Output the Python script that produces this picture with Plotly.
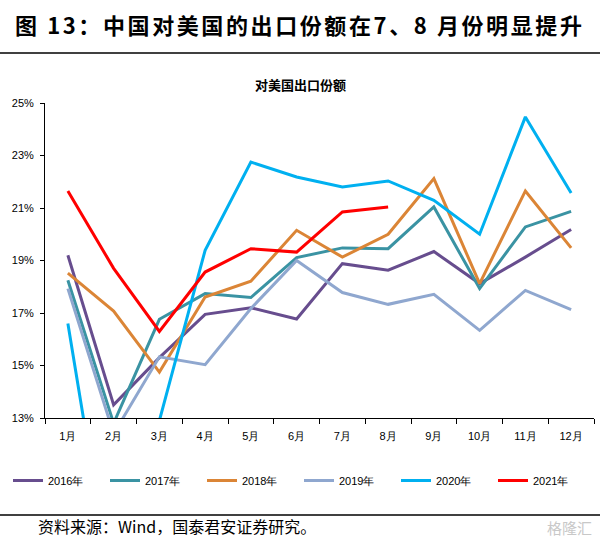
import plotly.graph_objects as go

months = ["1月", "2月", "3月", "4月", "5月", "6月", "7月", "8月", "9月", "10月", "11月", "12月"]
y_ticks = [13, 15, 17, 19, 21, 23, 25]
y_tick_labels = ["13%", "15%", "17%", "19%", "21%", "23%", "25%"]

s2016 = [19.2, 13.5, 15.3, 16.95, 17.2, 16.77, 18.88, 18.63, 19.34, 18.12, 19.13, 20.18]
s2017 = [18.25, 12.8, 16.76, 17.74, 17.59, 19.11, 19.48, 19.45, 21.04, 17.93, 20.28, 20.87]
s2018 = [18.52, 17.07, 14.75, 17.61, 18.21, 20.15, 19.13, 20.0, 22.12, 18.12, 21.65, 19.48]
s2019 = [17.93, 12.4, 15.33, 15.03, 17.17, 19.0, 17.78, 17.33, 17.71, 16.34, 17.86, 17.13]
s2020 = [16.6, 6.0, 12.9, 19.39, 22.75, 22.18, 21.8, 22.03, 21.29, 20.0, 24.47, 21.57]
s2021 = [21.65, 18.7, 16.3, 18.56, 19.45, 19.32, 20.85, 21.04]

series = [
    ("2016年", s2016, "#674D8E"),
    ("2017年", s2017, "#3A93A3"),
    ("2018年", s2018, "#DB8536"),
    ("2019年", s2019, "#8FA7CF"),
    ("2020年", s2020, "#00B0F0"),
    ("2021年", s2021, "#FF0000"),
]

fig = go.Figure()
for name, vals, color in series:
    fig.add_trace(go.Scatter(
        x=months[:len(vals)], y=vals, name=name, mode="lines",
        line=dict(color=color, width=3),
    ))

PW, PH = 549, 315

fig.update_layout(
    width=600, height=539,
    margin=dict(l=45, r=6, t=103, b=121),
    paper_bgcolor="white", plot_bgcolor="white",
    font=dict(family="Liberation Sans, Arial, sans-serif", size=11, color="black"),
    showlegend=True,
    legend=dict(
        orientation="h", x=(8 - 45) / PW, xanchor="left", xref="paper",
        y=-(466 - 418) / PH, yanchor="top",
        font=dict(family="Liberation Sans, Arial, sans-serif", size=11, color="black"),
        itemwidth=30, entrywidth=52, tracegroupgap=0,
        bgcolor="rgba(0,0,0,0)",
    ),
)

fig.update_xaxes(
    type="category", categoryorder="array", categoryarray=months,
    range=[-0.5, 11.5],
    showline=True, linecolor="black", linewidth=1,
    ticks="outside", tickson="boundaries", ticklen=5, tickcolor="black",
    ticklabelstandoff=8,
    showgrid=False, zeroline=False,
    tickfont=dict(family="Liberation Sans, Arial, sans-serif", size=11),
)
fig.update_yaxes(
    range=[13, 25], tickvals=y_ticks, ticktext=y_tick_labels,
    showline=True, linecolor="black", linewidth=1,
    ticks="outside", ticklen=4, tickcolor="black",
    ticklabelstandoff=4,
    showgrid=False, zeroline=False,
    tickfont=dict(family="Liberation Sans, Arial, sans-serif", size=11),
)

# Title, rules, subtitle, source
fig.add_annotation(
    text="<b>图 13：中国对美国的出口份额在7、8 月份明显提升</b>",
    xref="paper", yref="paper", x=(13 - 45) / PW, y=1 + (103 - 24) / PH,
    xanchor="left", yanchor="middle", showarrow=False, name="maintitle",
    font=dict(family="Noto Sans CJK SC", size=22, color="black"),
)
fig.add_annotation(
    text="<b>对美国出口份额</b>",
    xref="paper", yref="paper", x=(300 - 45) / PW, y=1 + (103 - 84) / PH,
    xanchor="center", yanchor="middle", showarrow=False,
    font=dict(family="Noto Sans CJK SC", size=13, color="black"),
)
fig.add_annotation(
    text="资料来源：Wind，国泰君安证券研究。",
    xref="paper", yref="paper", x=(36 - 45) / PW, y=-(526 - 418) / PH,
    xanchor="left", yanchor="middle", showarrow=False,
    font=dict(family="Noto Sans CJK SC", size=16, color="black"),
)
fig.add_annotation(
    text="格隆汇",
    xref="paper", yref="paper", x=(594 - 45) / PW, y=-(527 - 418) / PH,
    xanchor="right", yanchor="middle", showarrow=False,
    font=dict(family="Noto Sans CJK SC", size=15, color="#C8C8C8"),
)
fig.add_shape(type="line", xref="paper", yref="paper",
              x0=-45/PW, x1=1 + 6/PW, y0=1 + (103 - 53) / PH, y1=1 + (103 - 53) / PH,
              line=dict(color="black", width=1.5))
fig.add_shape(type="line", xref="paper", yref="paper",
              x0=-45/PW, x1=1 + 6/PW, y0=-(515 - 418) / PH, y1=-(515 - 418) / PH,
              line=dict(color="black", width=1.5))

post = """
document.body.style.margin='0';
document.body.style.padding='0';
var t = document.querySelectorAll('.annotation-text');
if (t.length) {
  var el = t[0];
  var b = el.getBBox();
  el.setAttribute('text-anchor', 'start');
  el.setAttribute('x', b.x);
  el.style.letterSpacing = '2.6px';
}
"""

fig.write_html("out.html", post_script=post, config={"displayModeBar": False})
